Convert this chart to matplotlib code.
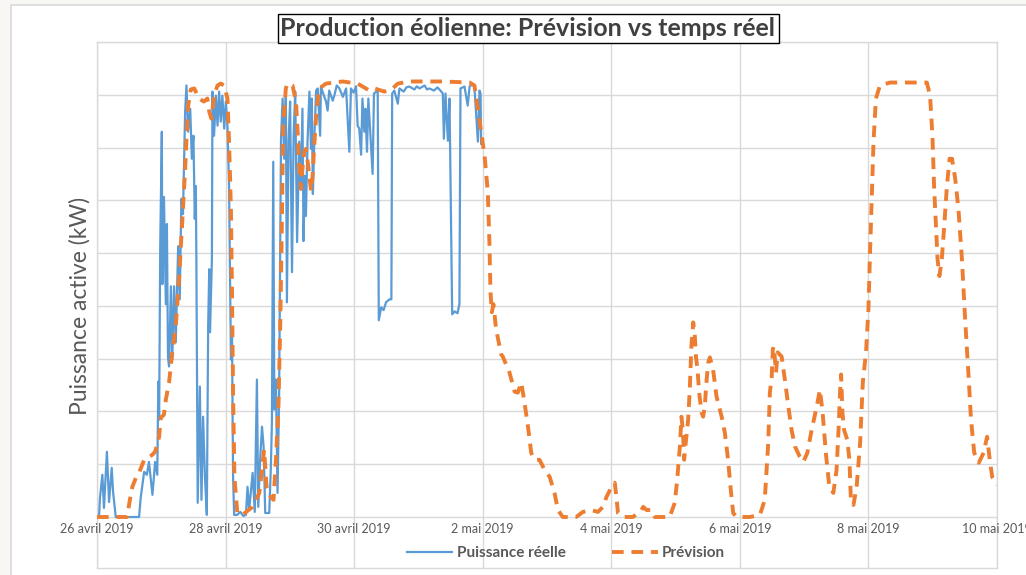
import pandas as pd
import matplotlib
matplotlib.use("Agg")
import matplotlib.pyplot as plt
from matplotlib.patches import Rectangle

# ----------------------------------------------------------------------------
# Data (hours since 26 avril 2019 00:00, kW)
# ----------------------------------------------------------------------------
START = pd.Timestamp("2019-04-26")

real_hours = [
    0, 0.75, 1.1, 2.0, 2.6, 3.7, 4.5, 5.5, 6.0, 7.0, 15.7, 16.3, 17.6, 18.6, 19.4,
    20.7, 21.7, 22.5, 22.9, 23.2, 23.6, 24.2, 24.4, 25.0, 25.7, 26.1, 26.5, 26.9,
    27.6, 28.1, 28.8, 29.4, 30.3, 30.9, 31.5, 32.1, 32.9, 33.4, 34.0, 34.8, 35.4,
    36.0, 36.5, 36.9, 37.1, 37.6, 38.4, 39.0, 39.6, 40.3, 41.0, 41.5, 41.9, 42.2,
    42.9, 43.1, 43.7, 44.4, 45.0, 45.6, 46.2, 46.8, 47.5, 48.1, 48.7, 49.3, 50.0,
    50.4, 50.8, 51.2, 52.3, 53.5, 54.6, 55.6, 56.2, 56.8, 58.1, 58.9, 59.7, 60.2,
    60.9, 61.6, 62.2, 62.8, 64.3, 64.9, 65.3, 65.8, 66.2, 66.8, 67.4, 68.0, 68.7,
    69.3, 69.9, 70.5, 70.9, 71.5, 72.1, 72.8, 73.4, 74.0, 74.7, 75.5, 76.1, 76.7,
    77.1, 77.6, 78.0, 78.6, 79.3, 79.9, 80.2, 80.6, 81.1, 81.8, 82.4, 83.3, 83.6,
    84.2, 85.5, 86.1, 86.7, 88.0, 88.6, 89.5, 90.5, 91.8, 93.0, 94.2, 94.8, 95.8,
    96.7, 97.3, 97.9, 98.6, 99.1, 99.8, 100.2, 100.8, 101.3, 102.9, 103.4, 104.8,
    105.2, 106.1, 107.0, 107.9, 109.2, 109.9, 110.2, 111.0, 112.3, 112.9, 114.5,
    115.5, 116.6, 118.5, 119.4, 120.4, 122.3, 123.2, 124.1, 125.8, 127.1, 128.2,
    129.1, 129.5, 130.1, 131.0, 131.6, 132.6, 133.5, 134.6, 135.3, 135.7, 137.2,
    138.4, 139.1, 140.0, 140.9, 142.2, 142.8, 143.2, 143.4,
]
real_kw = [
    0, 0, 90, 200, 43, 309, 71, 233, 119, 0, 0, 90, 214, 200, 261,
    105, 261, 200, 642, 461, 1279, 1825, 1103, 1516, 1008, 1388, 756, 713,
    1093, 746, 1093, 827, 1283, 1031, 1507, 1435, 1920, 2044, 1825, 1934, 1697,
    1806, 1412, 1568, 1222, 67, 618, 81, 475, 190, 10, 903, 1174, 875,
    1222, 2015, 1806, 1996, 1854, 2015, 1873, 1996, 1840, 1968, 1854, 1568, 746,
    875, 190, 10, 10, 24, 5, 10, 143, 33, 209, 24, 651, 48,
    271, 428, 333, 19, 19, 233, 447, 1683, 509, 651, 114, 589, 1792,
    1982, 1697, 2015, 1017, 1778, 1968, 1160, 1806, 2015, 1302, 1778, 1554, 1934,
    1307, 1616, 1426, 1778, 2015, 1744, 1982, 1530, 1778, 2020, 2030, 1806, 2039,
    2015, 1968, 1925, 2020, 1972, 1996, 2044, 2030, 1990, 2030, 1730, 2030, 2010,
    2040, 1854, 1840, 1716, 1982, 1825, 1934, 1730, 1982, 1625, 2006, 2020,
    932, 993, 980, 1017, 1031, 1031, 2006, 2020, 1958, 2030, 2015,
    2035, 2039, 2025, 2040, 2030, 2044, 2025, 2030, 2020, 2035,
    2020, 2006, 1792, 2006, 1782, 1982, 960, 974, 965, 1008, 2030, 2039,
    1949, 2039, 2050, 2039, 1778, 2020, 2006, 1768,
]

forecast_hours = [
    0, 3.7, 9.0, 11.2, 12.6, 13.2, 14.5, 15.7, 17.6, 18.8, 20.7, 21.7, 23.2, 23.8,
    25.0, 25.7, 26.9, 28.1, 29.4, 30.7, 31.9, 32.9, 33.5, 34.0, 35.0, 36.3, 38.1,
    39.9, 41.2, 41.9, 42.7, 43.7, 45.0, 46.2, 47.5, 48.7, 49.3, 50.0, 50.4, 50.8,
    51.3, 52.4, 54.3, 58.1, 60.6, 62.4, 63.3, 64.9, 65.9, 66.8, 67.7, 68.4, 69.0,
    69.5, 70.5, 71.1, 73.0, 74.3, 74.9, 75.5, 76.1, 76.7, 77.4, 78.0, 79.0, 79.9,
    80.5, 81.1, 82.0, 83.0, 85.5, 91.7, 97.3, 99.2, 101.7, 103.6, 106.1, 107.3,
    110.4, 112.3, 116.6, 129.1, 139.1, 140.9, 142.2, 143.4, 144.7, 145.9, 146.5,
    146.9, 147.4, 148.0, 149.0, 150.9, 151.5, 154.0, 155.9, 157.1, 158.4, 159.6,
    160.9, 162.1, 163.4, 165.2, 167.1, 169.0, 170.8, 172.1, 173.9, 178.9, 181.4,
    184.5, 187.0, 188.9, 190.2, 192.1, 193.3, 193.9, 194.5, 196.4, 200.1, 203.3,
    203.9, 205.2, 207.0, 208.2, 213.8, 215.7, 216.6, 217.6, 218.2, 218.8, 219.2,
    219.8, 220.7, 221.3, 221.9, 222.6, 223.2, 223.6, 224.2, 224.8, 225.7, 226.3,
    226.9, 227.6, 228.2, 228.8, 230.0, 231.3, 233.2, 234.4, 235.6, 236.5, 237.5,
    238.8, 243.7, 247.5, 249.3, 250.6, 251.2, 251.9, 252.3, 252.7, 253.5, 254.1,
    255.6, 256.8, 258.1, 259.3, 260.6, 262.4, 263.7, 265.2, 266.8, 268.7, 269.9,
    270.9, 272.1, 273.4, 274.9, 276.1, 276.9, 277.4, 277.8, 278.3, 278.9, 280.1,
    280.9, 281.5, 282.4, 283.6, 284.9, 285.9, 287.1, 288.0, 288.6, 289.3, 289.9,
    290.8, 292.3, 296.1, 309.8, 311.0, 311.9, 312.5, 313.2, 313.8, 314.5, 315.4,
    316.3, 317.3, 318.3, 319.2, 320.4, 321.6, 322.9, 324.1, 325.4, 326.3, 327.5,
    329.2, 331.0, 332.3, 333.3, 334.2, 335.1, 336.1,
]
forecast_kw = [
    0, 0, 0, 0, 105, 143, 185, 209, 271, 280, 295, 309, 380, 470,
    485, 556, 637, 780, 903, 1141, 1412, 1645, 1816, 1944, 2025, 2030, 1982,
    1968, 1982, 1920, 1887, 1996, 2044, 2053, 2044, 1982, 1778, 1459, 1065, 589,
    190, 19, 10, 48, 114, 318, 143, 95, 81, 271, 509, 903, 1378,
    1854, 2030, 2053, 2044, 1968, 1825, 1650, 1554, 1650, 1730, 1744, 1650, 1545,
    1616, 1759, 1934, 2030, 2053, 2063, 2053, 2039, 2020, 2030, 2020, 2015,
    2030, 2053, 2063, 2063, 2058, 2044, 1934, 1825, 1711, 1540, 1302,
    1065, 970, 1008, 889, 770, 760, 684, 594, 589, 637, 542,
    428, 304, 271, 271, 223, 190, 114, 33, 0, 0, 24,
    33, 24, 48, 95, 143, 162, 95, 19, 0, 0, 33,
    48, 33, 33, 0, 0, 67, 176, 333, 475, 399, 271,
    352, 461, 603, 808, 922, 855, 760, 699, 589, 494, 475,
    523, 651, 732, 756, 699, 570, 475, 399, 271, 143, 19,
    0, 0, 10, 81, 352, 589, 665, 794, 808, 684, 780,
    760, 651, 523, 413, 333, 285, 261, 304, 413, 523, 603,
    494, 304, 143, 114, 223, 428, 589, 675, 494, 413, 366,
    271, 67, 57, 143, 352, 637, 780, 984, 1255, 1540, 1778,
    1982, 2044, 2058, 2058, 1996, 1806, 1568, 1378, 1222, 1141, 1222,
    1378, 1568, 1697, 1697, 1602, 1459, 1222, 937, 665, 461, 304,
    257, 304, 380, 271, 190, 176, 152,
]

tick_dates = pd.date_range("2019-04-26", "2019-05-10", freq="2D")
tick_labels = ["26 avril 2019", "28 avril 2019", "30 avril 2019", "2 mai 2019",
               "4 mai 2019", "6 mai 2019", "8 mai 2019", "10 mai 2019"]

TITLE = "Production éolienne: Prévision vs temps réel"
YLABEL = "Puissance active (kW)"
REAL_LABEL = "Puissance réelle"
FORECAST_LABEL = "Prévision"

BLUE = "#5B9BD5"
ORANGE = "#ED7D31"
GRID = "#D9D9D9"
TEXT = "#595959"
FONT = ["Lato", "DejaVu Sans"]

# ----------------------------------------------------------------------------
# Figure
# ----------------------------------------------------------------------------
W, H = 1026, 575
fig = plt.figure(figsize=(W / 100, H / 100), dpi=100, facecolor="#F8F7F3")
fig.patches.append(Rectangle((11 / W, -0.01), 1.0, 1 - 5 / H + 0.01,
                             transform=fig.transFigure, facecolor="white",
                             edgecolor=GRID, linewidth=1.2, zorder=-10))

ax = fig.add_axes([97 / W, 1 - 568 / H, 900 / W, (568 - 42) / H])
ax.set_facecolor("white")
ax.set_zorder(1)

real_t = START + pd.to_timedelta(real_hours, unit="h")
fc_t = START + pd.to_timedelta(forecast_hours, unit="h")

ax.plot(real_t, real_kw, color=BLUE, lw=1.6, label=REAL_LABEL, zorder=3)
(fc_line,) = ax.plot(fc_t, forecast_kw, color=ORANGE, lw=2.8, label=FORECAST_LABEL,
                     zorder=4, solid_capstyle="butt")
fc_line.set_dashes((3, 2))

ax.set_xlim(tick_dates[0], tick_dates[-1])
ax.set_ylim(-241.6, 2250)
ax.set_xticks(tick_dates)
ax.set_xticklabels([])
ax.set_yticks(range(0, 2251, 250))
ax.set_yticklabels([])
ax.tick_params(length=0)
ax.grid(True, color=GRID, lw=1.0, zorder=0)
ax.set_axisbelow(True)
for sp in ax.spines.values():
    sp.set_color(GRID)
    sp.set_linewidth(1.0)

for d, lab in zip(tick_dates, tick_labels):
    ax.text(d, -57, lab, ha="center", va="center", fontsize=9, color=TEXT,
            family=FONT, clip_on=False)

fig.text(80 / W, 1 - 306 / H, YLABEL, rotation=90, ha="center", va="center",
         fontsize=16.5, color=TEXT, family=FONT)

fig.text(528 / W, 1 - 28 / H, TITLE, ha="center", va="center", fontsize=18,
         fontweight="bold", color="#404040", family=FONT,
         bbox=dict(boxstyle="square,pad=0.12", facecolor="white",
                   edgecolor="black", linewidth=1.0))

ax.legend(loc="center", bbox_to_anchor=(566 / W, 1 - 553 / H),
          bbox_transform=fig.transFigure, ncol=2, frameon=False,
          handlelength=3.0, columnspacing=3.0, handletextpad=0.3,
          prop=dict(family=FONT, size=11, weight="bold"), labelcolor=TEXT)

fig.savefig("out.png", dpi=100, facecolor=fig.get_facecolor())
